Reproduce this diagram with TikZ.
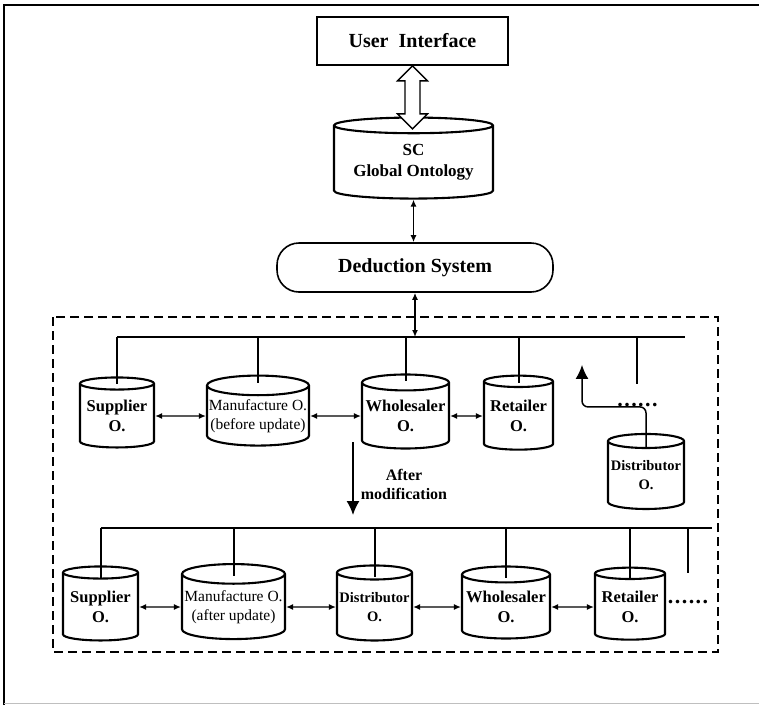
\documentclass[tikz,border=0pt]{standalone}
\usepackage{fontspec}
\setmainfont{Liberation Serif}
\usepackage{tikz}
\usetikzlibrary{calc,arrows.meta,shapes.geometric}

\tikzset{
  onto/.style={draw, cylinder, shape border rotate=90, aspect=0.2, line width=2.1pt, inner sep=0pt, align=center, font=\fontsize{16.5}{20}\selectfont\bfseries},
  manu/.style={font=\fontsize{15.5}{19}\selectfont},
  conn/.style={line width=1.4pt, {Latex[length=7pt,width=6pt]}-{Latex[length=7pt,width=6pt]}},
  bigarr/.style={line width=1.5pt, -{Latex[length=14pt,width=13pt]}},
  bus/.style={line width=2pt},
  title/.style={draw, line width=1.6pt, font=\fontsize{20}{24}\selectfont\bfseries},
  more/.style={font=\fontsize{22}{22}\selectfont\bfseries, inner sep=0pt}
}

\begin{document}
\begin{tikzpicture}[x=1pt,y=-1pt]
\useasboundingbox (0,0) rectangle (759,705);
\draw[line width=1.8pt] (4,705) -- (4,5) -- (759,5);
\draw[line width=1pt, black!25] (4,703) -- (759,703);

\node[title, minimum width=191pt, minimum height=48pt] (ui) at (412.5,41) {User\ \ Interface};
\node[onto, aspect=0.13, minimum width=159pt, minimum height=81pt, font=\fontsize{17}{21}\selectfont\bfseries] (sc) at (413.5,162.5) {SC\\Global Ontology};
\node[title, rounded corners=22pt, minimum width=276pt, minimum height=49pt] (ded) at (415,267.5) {Deduction System};

\draw[line width=1.4pt, fill=white] (ui.south) -- ++(15,15) -- ++(-7.5,0) -- ++(0,33) -- ++(7.5,0) -- ++(-15,15)
  -- ++(-15,-15) -- ++(7.5,0) -- ++(0,-33) -- ++(-7.5,0) -- cycle;
\draw[conn] (sc.south) -- (sc.south |- ded.north);

\draw[line width=1.8pt, dash pattern=on 9pt off 5pt] (53,317) rectangle (718,652);

% before update
\coordinate (bus1) at (685,337);
\coordinate (stub1) at (637,384);
\node[onto, minimum width=74pt, minimum height=70pt] (s1) at (117,416) {Supplier\\O.};
\node[onto, manu, minimum width=102pt, minimum height=70pt] (m1) at (258,416) {Manufacture O.\\(before update)};
\node[onto, minimum width=87pt, minimum height=74pt] (w1) at (405.5,416) {Wholesaler\\O.};
\node[onto, minimum width=69pt, minimum height=74pt] (r1) at (518.5,416) {Retailer\\O.};
\node[onto, minimum width=76pt, minimum height=75pt, font=\fontsize{14.5}{19}\selectfont\bfseries] (d1) at (646,475.5) {Distributor\\O.};
\node[more] (more1) at (637.5,405) {.\kern1.5pt.\kern1.5pt.\kern1.5pt.\kern1.5pt.\kern1.5pt.};

\draw[conn] (ded.south) -- (ded.south |- bus1);
\draw[bus] (s1.north |- bus1) -- (bus1);
\foreach \o in {s1,m1,w1,r1}
  \draw[bus] (\o.north |- bus1) -- ([yshift=-8pt]\o.north);
\draw[bus] (stub1 |- bus1) -- (stub1);
\draw[conn] (s1.east) -- (m1.west);
\draw[conn] (m1.east) -- (w1.west);
\draw[conn] (w1.east) -- (r1.west);
\draw[bigarr, rounded corners=6pt] ([yshift=-14pt]d1.north) |- ++(-64,-40) -- ++(0,-42);

% modification
\coordinate (mod1) at (353,442);
\coordinate (mod2) at (353,515);
\draw[bigarr] (mod1) -- (mod2);
\node[font=\fontsize{16}{19}\selectfont\bfseries, align=center] (modlbl) at (404,484) {After\\modification};

% after update
\coordinate (bus2) at (712,528);
\coordinate (stub2) at (688,573);
\node[onto, minimum width=75pt, minimum height=74pt] (s2) at (100.5,607) {Supplier\\O.};
\node[onto, manu, minimum width=103pt, minimum height=75pt] (m2) at (233.5,607) {Manufacture O.\\(after update)};
\node[onto, minimum width=75pt, minimum height=75pt, font=\fontsize{14.5}{19}\selectfont\bfseries] (d2) at (374.5,607) {Distributor\\O.};
\node[onto, minimum width=88pt, minimum height=72pt] (w2) at (506,607) {Wholesaler\\O.};
\node[onto, minimum width=70pt, minimum height=72pt] (r2) at (630,607) {Retailer\\O.};
\node[more] (more2) at (688,602) {.\kern1.5pt.\kern1.5pt.\kern1.5pt.\kern1.5pt.\kern1.5pt.};

\draw[bus] (s2.north |- bus2) -- (bus2);
\foreach \o in {s2,m2,d2,w2,r2}
  \draw[bus] (\o.north |- bus2) -- ([yshift=-13pt]\o.north);
\draw[bus] (stub2 |- bus2) -- (stub2);
\draw[conn] (s2.east) -- (m2.west);
\draw[conn] (m2.east) -- (d2.west);
\draw[conn] (d2.east) -- (w2.west);
\draw[conn] (w2.east) -- (r2.west);
\end{tikzpicture}
\end{document}
